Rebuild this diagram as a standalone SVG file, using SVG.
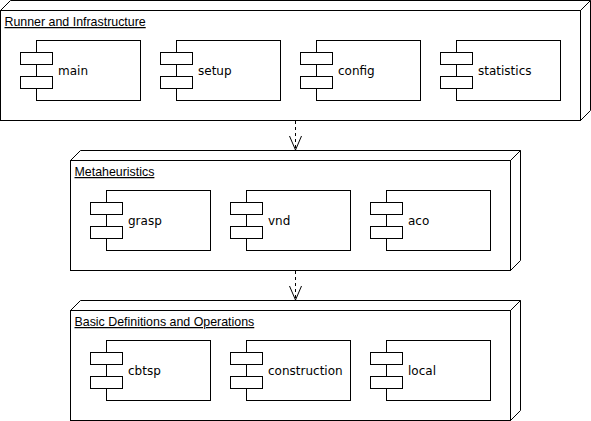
<svg xmlns="http://www.w3.org/2000/svg" width="591" height="421" viewBox="0 0 591 421">
<style>
.shape{fill:#ffffff;stroke:#000000;stroke-width:1}
.edge{fill:none;stroke:#000000;stroke-width:1}
.title{font-family:"Liberation Sans",Arial,sans-serif;font-size:12.4px;fill:#000000;text-decoration:underline}
.lbl{font-family:"DejaVu Sans",Verdana,sans-serif;font-size:12px;fill:#000000}
</style>
<defs>
<marker id="open" markerUnits="userSpaceOnUse" viewBox="-1 -7 16 14" refX="14" refY="0" markerWidth="16" markerHeight="14" orient="auto">
<path d="M0,-6 L14,0 L0,6" fill="none" stroke="#000000" stroke-width="1"/>
</marker>
<g id="comp">
<rect class="shape" x="16.5" y="0.5" width="104" height="60"/>
<rect class="shape" x="0.5" y="12.5" width="32" height="12"/>
<rect class="shape" x="0.5" y="36.5" width="32" height="12"/>
</g>
</defs>
<rect width="591" height="421" fill="#ffffff"/>

<g id="node-runner">
<path class="shape" d="M0.5,10.5 L10.5,0.5 L590.5,0.5 L590.5,110.5 L580.5,120.5 L0.5,120.5 Z"/>
<rect class="shape" x="0.5" y="10.5" width="580" height="110"/>
<path class="edge" d="M580.5,10.5 L590.5,0.5"/>
<text class="title" x="4.5" y="26">Runner and Infrastructure</text>
</g>
<g id="comp-main"><use href="#comp" x="20" y="40"/><text class="lbl" x="58" y="74.5">main</text></g>
<g id="comp-setup"><use href="#comp" x="160" y="40"/><text class="lbl" x="198" y="74.5">setup</text></g>
<g id="comp-config"><use href="#comp" x="300" y="40"/><text class="lbl" x="338" y="74.5">config</text></g>
<g id="comp-statistics"><use href="#comp" x="440" y="40"/><text class="lbl" x="478" y="74.5">statistics</text></g>

<g id="node-meta">
<path class="shape" d="M70.5,160.5 L80.5,150.5 L520.5,150.5 L520.5,260.5 L510.5,270.5 L70.5,270.5 Z"/>
<rect class="shape" x="70.5" y="160.5" width="440" height="110"/>
<path class="edge" d="M510.5,160.5 L520.5,150.5"/>
<text class="title" x="74.5" y="176">Metaheuristics</text>
</g>
<g id="comp-grasp"><use href="#comp" x="90" y="190"/><text class="lbl" x="128" y="224.5">grasp</text></g>
<g id="comp-vnd"><use href="#comp" x="230" y="190"/><text class="lbl" x="268" y="224.5">vnd</text></g>
<g id="comp-aco"><use href="#comp" x="370" y="190"/><text class="lbl" x="408" y="224.5">aco</text></g>

<g id="node-basic">
<path class="shape" d="M70.5,310.5 L80.5,300.5 L520.5,300.5 L520.5,410.5 L510.5,420.5 L70.5,420.5 Z"/>
<rect class="shape" x="70.5" y="310.5" width="440" height="110"/>
<path class="edge" d="M510.5,310.5 L520.5,300.5"/>
<text class="title" x="74.5" y="326">Basic Definitions and Operations</text>
</g>
<g id="comp-cbtsp"><use href="#comp" x="90" y="340"/><text class="lbl" x="128" y="374.5">cbtsp</text></g>
<g id="comp-construction"><use href="#comp" x="230" y="340"/><text class="lbl" x="268" y="374.5">construction</text></g>
<g id="comp-local"><use href="#comp" x="370" y="340"/><text class="lbl" x="408" y="374.5">local</text></g>

<g id="connectors">
<path class="edge" d="M295.5,121 L295.5,150" stroke-dasharray="3 3" marker-end="url(#open)"/>
<path class="edge" d="M295.5,271 L295.5,300" stroke-dasharray="3 3" marker-end="url(#open)"/>
</g>
</svg>
